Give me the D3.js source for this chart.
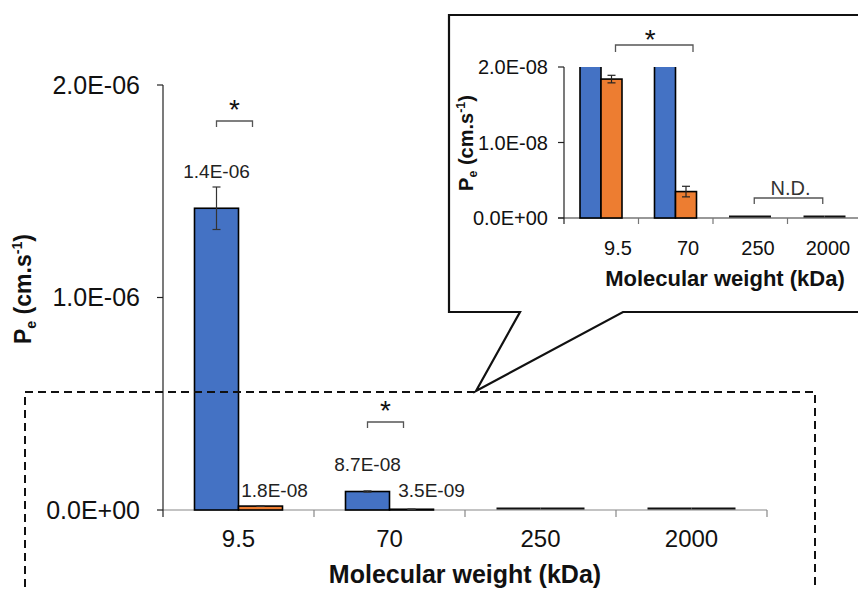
<!DOCTYPE html>
<html><head><meta charset="utf-8">
<script src="https://cdn.jsdelivr.net/npm/d3@7"></script>
<style>
html,body{margin:0;padding:0;background:#fff;}
svg{display:block;font-family:"Liberation Sans",Arial,sans-serif;}
</style></head>
<body>
<svg id="c" width="858" height="589"></svg>
<script>
// ---- data ----
const categories = ["9.5", "70", "250", "2000"];
const seriesNames = ["A", "B"];
const blueValues = [1.42e-6, 8.7e-8, 0, 0];
const blueErrors = [1.0e-7, 3e-9, 0, 0];
const orangeValues = [1.84e-8, 3.5e-9, 0, 0];
const orangeErrors = [5e-10, 7e-10, 0, 0];
const blueLabels = ["1.4E-06", "8.7E-08", null, null];
const orangeLabels = ["1.8E-08", "3.5E-09", null, null];
const mainTicks = [0, 1e-6, 2e-6];
const mainTickLabels = ["0.0E+00", "1.0E-06", "2.0E-06"];
const insetTicks = [0, 1e-8, 2e-8];
const insetTickLabels = ["0.0E+00", "1.0E-08", "2.0E-08"];
const xTitle = "Molecular weight (kDa)";

const colors = {A: "#4472C4", B: "#ED7D31"};
const svg = d3.select("#c");

function rows() {
  return categories.map((c, i) => ({
    cat: c,
    vals: [
      {s: "A", v: blueValues[i], e: blueErrors[i], lab: blueLabels[i]},
      {s: "B", v: orangeValues[i], e: orangeErrors[i], lab: orangeLabels[i]}
    ]
  }));
}

function yTitle(g, x, y, size) {
  const t = g.append("text")
    .attr("transform", `translate(${x},${y}) rotate(-90)`)
    .attr("text-anchor", "middle")
    .attr("font-weight", "bold").attr("font-size", size).attr("fill", "#111");
  t.append("tspan").text("P");
  t.append("tspan").attr("font-size", size * 0.62).attr("dy", size * 0.22).text("e");
  t.append("tspan").attr("dy", -size * 0.22).text(" (cm.s");
  t.append("tspan").attr("font-size", size * 0.62).attr("dy", -size * 0.4).text("-1");
  t.append("tspan").attr("dy", size * 0.4).text(")");
}

function drawBars(grp, xSub, y) {
  grp.selectAll("rect").data(d => d.vals.filter(v => v.v > 0)).join("rect")
    .attr("x", d => xSub(d.s))
    .attr("width", xSub.bandwidth())
    .attr("y", d => y(d.v))
    .attr("height", d => y(0) - y(d.v))
    .attr("fill", d => colors[d.s])
    .attr("stroke", "#000").attr("stroke-width", 1.6);
  // zero-height bars show as their outline only
  grp.selectAll(".zero").data(d => d.vals.filter(v => v.v === 0)).join("line").attr("class", "zero")
    .attr("x1", d => xSub(d.s))
    .attr("x2", d => xSub(d.s) + xSub.bandwidth())
    .attr("y1", y(0) - 1.5).attr("y2", y(0) - 1.5)
    .attr("stroke", "#111").attr("stroke-width", 2);
}

// ---------------- main chart ----------------
const xMain = d3.scaleBand().domain(categories).range([163, 767]).padding(0);
const xMainSub = d3.scaleBand().domain(seriesNames).range([31.5, xMain.bandwidth() - 31.5]);
const yMain = d3.scaleLinear().domain([0, 2e-6]).range([510, 85]);

const gm = svg.append("g");

// x axis line first (bars drawn over)
gm.append("line").attr("x1", 163).attr("x2", xMain.range()[1]).attr("y1", yMain(0)).attr("y2", yMain(0))
  .attr("stroke", "#888").attr("stroke-width", 1.2);

const grp = gm.selectAll(".grp").data(rows()).join("g")
  .attr("transform", d => `translate(${xMain(d.cat)},0)`);
drawBars(grp, xMainSub, yMain);
// error bars
grp.selectAll(".err").data(d => d.vals.filter(v => v.e > 0)).join("g").attr("class", "err")
  .each(function(d) {
    const g = d3.select(this);
    const cx = xMainSub(d.s) + xMainSub.bandwidth() / 2;
    const y1 = yMain(d.v + d.e), y2 = yMain(d.v - d.e);
    g.append("line").attr("x1", cx).attr("x2", cx).attr("y1", y1).attr("y2", y2);
    g.append("line").attr("x1", cx - 4).attr("x2", cx + 4).attr("y1", y1).attr("y2", y1);
    g.append("line").attr("x1", cx - 4).attr("x2", cx + 4).attr("y1", y2).attr("y2", y2);
    g.selectAll("line").attr("stroke", "#333").attr("stroke-width", 1.2);
  });

// y axis
gm.append("line").attr("x1", 163).attr("x2", 163).attr("y1", yMain(2e-6)).attr("y2", yMain(0) + 7)
  .attr("stroke", "#222").attr("stroke-width", 1.2);
mainTicks.forEach((t, i) => {
  gm.append("line").attr("x1", 157).attr("x2", 163).attr("y1", yMain(t)).attr("y2", yMain(t))
    .attr("stroke", "#222").attr("stroke-width", 1.2);
  gm.append("text").attr("x", 140).attr("y", yMain(t)).attr("dy", "0.35em")
    .attr("text-anchor", "end").attr("font-size", 25).attr("fill", "#111").text(mainTickLabels[i]);
});
categories.slice(1).concat(["end"]).forEach(c => {
  const x = c === "end" ? xMain.range()[1] : xMain(c);
  gm.append("line").attr("x1", x).attr("x2", x).attr("y1", yMain(0)).attr("y2", yMain(0) + 7)
    .attr("stroke", "#888").attr("stroke-width", 1.2);
});
categories.forEach(c => {
  gm.append("text").attr("x", xMain(c) + xMain.bandwidth() / 2).attr("y", 547)
    .attr("text-anchor", "middle").attr("font-size", 24).attr("fill", "#111").text(c);
});
gm.append("text").attr("x", 465).attr("y", 583).attr("text-anchor", "middle")
  .attr("font-size", 25).attr("font-weight", "bold").attr("fill", "#111").text(xTitle);
yTitle(gm, 31, 289, 23);

// data labels
rows().forEach((r, i) => {
  r.vals.forEach(d => {
    if (!d.lab) return;
    const cx = xMain(r.cat) + xMainSub(d.s) + xMainSub.bandwidth() / 2;
    let x, y;
    if (d.s === "A") { x = cx; y = yMain(d.v + d.e) - (i === 0 ? 9 : 20); }
    else { x = cx + 14 + i * 6; y = 497; }
    gm.append("text").attr("x", x).attr("y", y).attr("text-anchor", "middle")
      .attr("font-size", 19).attr("fill", "#222").text(d.lab);
  });
});

// significance brackets main
function bracket(g, x1, x2, y, leg, stroke) {
  g.append("path").attr("d", `M${x1},${y + leg}V${y}H${x2}V${y + leg}`)
    .attr("fill", "none").attr("stroke", stroke || "#555").attr("stroke-width", 1.3);
}
[[0, 121], [1, 422]].forEach(([i, by]) => {
  const c = categories[i];
  const bx = xMain(c) + xMainSub("A") + xMainSub.bandwidth() / 2;
  bracket(gm, bx, bx + 36, by, 6);
  gm.append("text").attr("x", bx + 18).attr("y", by - 2).attr("text-anchor", "middle")
    .attr("font-size", 28).attr("fill", "#111").text("*");
});

// dashed rectangle
gm.append("path").attr("d", "M25,600V392H815V600")
  .attr("fill", "none").attr("stroke", "#111").attr("stroke-width", 2).attr("stroke-dasharray", "8,5");

// ---------------- inset ----------------
const gi = svg.append("g");
gi.append("path").attr("d", "M880,15H449V312H520L476,391L623,312H880")
  .attr("fill", "#fff").attr("stroke", "#111").attr("stroke-width", 2.2);

const xIn = d3.scaleBand().domain(categories).range([564, 862]).padding(0);
const xInSub = d3.scaleBand().domain(seriesNames).range([16, xIn.bandwidth() - 16.5]);
const xInLab = d3.scaleBand().domain(categories).range([583, 863]).padding(0);
const yIn = d3.scaleLinear().domain([0, 2e-8]).range([218, 67]);

svg.append("defs").append("clipPath").attr("id", "clipIn")
  .append("rect").attr("x", 560).attr("y", yIn(2e-8)).attr("width", 300).attr("height", 160);

gi.append("line").attr("x1", 558).attr("x2", 858).attr("y1", yIn(0)).attr("y2", yIn(0))
  .attr("stroke", "#333").attr("stroke-width", 1.2);

const gib = gi.append("g").attr("clip-path", "url(#clipIn)");
const grpI = gib.selectAll(".grp").data(rows()).join("g")
  .attr("transform", d => `translate(${xIn(d.cat)},0)`);
drawBars(grpI, xInSub, yIn);
grpI.selectAll(".err").data(d => d.vals.filter(v => v.e > 0 && v.s === "B")).join("g").attr("class", "err")
  .each(function(d) {
    const g = d3.select(this);
    const cx = xInSub(d.s) + xInSub.bandwidth() / 2;
    const y1 = yIn(d.v + d.e), y2 = yIn(d.v - d.e);
    g.append("line").attr("x1", cx).attr("x2", cx).attr("y1", y1).attr("y2", y2);
    g.append("line").attr("x1", cx - 4).attr("x2", cx + 4).attr("y1", y1).attr("y2", y1);
    g.append("line").attr("x1", cx - 4).attr("x2", cx + 4).attr("y1", y2).attr("y2", y2);
    g.selectAll("line").attr("stroke", "#222").attr("stroke-width", 1.2);
  });

// inset axes
gi.append("line").attr("x1", 564).attr("x2", 564).attr("y1", yIn(2e-8)).attr("y2", yIn(0) + 6)
  .attr("stroke", "#222").attr("stroke-width", 1.2);
insetTicks.forEach((t, i) => {
  gi.append("line").attr("x1", 558).attr("x2", 564).attr("y1", yIn(t)).attr("y2", yIn(t))
    .attr("stroke", "#222").attr("stroke-width", 1.2);
  gi.append("text").attr("x", 548).attr("y", yIn(t)).attr("dy", "0.35em")
    .attr("text-anchor", "end").attr("font-size", 20).attr("fill", "#111").text(insetTickLabels[i]);
});
categories.slice(1).forEach(c => {
  gi.append("line").attr("x1", xIn(c)).attr("x2", xIn(c)).attr("y1", yIn(0)).attr("y2", yIn(0) + 6)
    .attr("stroke", "#777").attr("stroke-width", 1.2);
});
categories.forEach(c => {
  gi.append("text").attr("x", xInLab(c) + xInLab.bandwidth() / 2).attr("y", 255)
    .attr("text-anchor", "middle").attr("font-size", 20).attr("fill", "#111").text(c);
});
gi.append("text").attr("x", 725).attr("y", 286).attr("text-anchor", "middle")
  .attr("font-size", 22).attr("font-weight", "bold").attr("fill", "#111").text(xTitle);
yTitle(gi, 473, 143, 20);

// inset brackets
{
  const bx1 = xIn(categories[0]) + xInSub("B") + xInSub.bandwidth() / 2 + 4;
  const bx2 = xIn(categories[1]) + xInSub("B") + xInSub.bandwidth() / 2 + 7;
  bracket(gi, bx1, bx2, 45, 7);
  gi.append("text").attr("x", (bx1 + bx2) / 2 - 4).attr("y", 49).attr("text-anchor", "middle")
    .attr("font-size", 28).attr("fill", "#111").text("*");
  const n1 = xIn(categories[2]) + xIn.bandwidth() / 2 + 4;
  const n2 = xIn(categories[3]) + xIn.bandwidth() / 2 - 2;
  bracket(gi, n1, n2, 198, 6);
  gi.append("text").attr("x", (n1 + n2) / 2 + 2).attr("y", 195).attr("text-anchor", "middle")
    .attr("font-size", 20).attr("fill", "#333").text("N.D.");
}
</script>
</body></html>
